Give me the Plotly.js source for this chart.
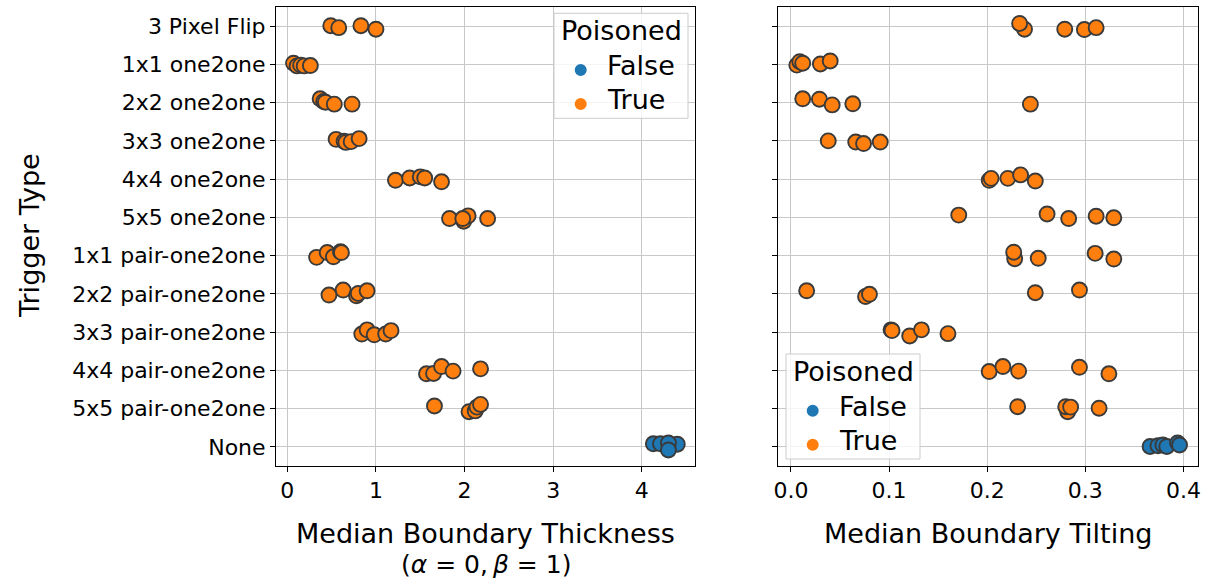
<!DOCTYPE html>
<html>
<head>
<meta charset="utf-8">
<script src="https://cdn.plot.ly/plotly-3.0.1.min.js"></script>
<style>html,body{margin:0;padding:0;background:#fff;}#chart{width:1205px;height:582px;}</style>
</head>
<body>
<div id="chart"></div>
<script>
const categories = ["3 Pixel Flip","1x1 one2one","2x2 one2one","3x3 one2one","4x4 one2one","5x5 one2one",
  "1x1 pair-one2one","2x2 pair-one2one","3x3 pair-one2one","4x4 pair-one2one","5x5 pair-one2one","None"];
const poisoned = [true,true,true,true,true,true,true,true,true,true,true,false];

// Median Boundary Thickness (alpha=0, beta=1), per trigger type
const thicknessValues = [
  [0.49, 0.58, 0.83, 1.00],
  [0.07, 0.11, 0.15, 0.19, 0.26],
  [0.37, 0.41, 0.43, 0.53, 0.73],
  [0.55, 0.64, 0.66, 0.72, 0.81],
  [1.22, 1.38, 1.50, 1.55, 1.74],
  [1.83, 1.99, 2.04, 1.98, 2.26],
  [0.33, 0.45, 0.52, 0.60, 0.61],
  [0.47, 0.63, 0.78, 0.80, 0.90],
  [0.84, 0.90, 0.98, 1.11, 1.17],
  [1.57, 1.65, 1.74, 1.87, 2.18],
  [1.66, 2.05, 2.12, 2.14, 2.18],
  [4.13, 4.21, 4.40, 4.30, 4.30]
];
// strip jitter (category units)
const thicknessJitter = [
  [-0.01, 0.04, -0.01, 0.08],
  [-0.03, 0.04, 0.02, 0.04, 0.03],
  [-0.10, -0.03, -0.01, 0.04, 0.04],
  [-0.04, 0.01, 0.04, 0.02, -0.06],
  [0.03, -0.03, -0.06, -0.03, 0.07],
  [0.03, 0.10, -0.04, 0.03, 0.03],
  [0.045, -0.08, 0.03, -0.10, -0.08],
  [0.03, -0.10, 0.05, -0.01, -0.08],
  [0.05, -0.06, 0.07, 0.05, -0.04],
  [0.09, 0.08, -0.10, 0.02, -0.04],
  [-0.07, 0.08, 0.06, -0.04, -0.11],
  [-0.08, -0.08, -0.07, -0.10, 0.08]
];

// Median Boundary Tilting, per trigger type
const tiltingValues = [
  [0.238, 0.233, 0.279, 0.299, 0.311],
  [0.006, 0.009, 0.012, 0.030, 0.040],
  [0.012, 0.029, 0.042, 0.063, 0.244],
  [0.038, 0.066, 0.074, 0.091],
  [0.202, 0.204, 0.221, 0.234, 0.249],
  [0.171, 0.261, 0.283, 0.311, 0.329],
  [0.228, 0.227, 0.252, 0.310, 0.329],
  [0.016, 0.076, 0.080, 0.249, 0.294],
  [0.102, 0.103, 0.121, 0.133, 0.160],
  [0.202, 0.216, 0.232, 0.294, 0.324],
  [0.231, 0.282, 0.280, 0.285, 0.314],
  [0.366, 0.374, 0.379, 0.383, 0.394, 0.396]
];
const tiltingJitter = [
  [0.08, -0.07, 0.08, 0.09, 0.04],
  [0.02, -0.07, -0.03, -0.01, -0.09],
  [-0.10, -0.09, 0.06, 0.03, 0.04],
  [0.00, 0.03, 0.07, 0.03],
  [0.03, -0.02, -0.02, -0.11, 0.05],
  [-0.06, -0.09, 0.03, -0.03, 0.01],
  [0.08, -0.09, 0.07, -0.06, 0.09],
  [-0.08, 0.07, 0.01, -0.03, -0.10],
  [-0.06, -0.04, 0.10, -0.06, 0.04],
  [0.03, -0.10, 0.02, -0.08, 0.09],
  [-0.05, 0.08, -0.05, -0.04, -0.01],
  [-0.01, -0.03, -0.05, -0.01, -0.10, -0.05]
];

const xTicksLeft = [0, 1, 2, 3, 4];
const xTicksRight = [0, 0.1, 0.2, 0.3, 0.4];
const xTickTextRight = ["0.0", "0.1", "0.2", "0.3", "0.4"];
const hueLevels = [false, true];
const hueNames = ["False", "True"];
const hueColors = ["#1f77b4", "#ff7f0e"];
const legendTitle = "Poisoned";

const FONT = "DejaVu Sans, Verdana, sans-serif";
const W = 1205, H = 582;
const M = {l: 276, r: 7, t: 7, b: 116};
const PW = W - M.l - M.r, PH = H - M.t - M.b;
const px = x => (x - M.l) / PW;          // pixel -> paper x
const py = y => 1 - (y - M.t) / PH;      // pixel -> paper y

function buildTraces(values, jitter, xa, ya) {
  const traces = [];
  hueLevels.forEach((h, hi) => {
    const xs = [], ys = [];
    categories.forEach((c, ci) => {
      if (poisoned[ci] !== h) return;
      values[ci].forEach((v, k) => { xs.push(v); ys.push(ci + jitter[ci][k]); });
    });
    traces.push({
      type: "scatter", mode: "markers", x: xs, y: ys, xaxis: xa, yaxis: ya,
      name: hueNames[hi], showlegend: false, hoverinfo: "x",
      marker: {size: 15, color: hueColors[hi], line: {color: "#3a3a3a", width: 1.9}}
    });
  });
  return traces;
}

const data = [].concat(
  buildTraces(thicknessValues, thicknessJitter, "x", "y"),
  buildTraces(tiltingValues, tiltingJitter, "x2", "y2")
);

// legend boxes (matplotlib-style), positioned in pixels: [left, top]
const legendBoxes = [[554, 13.3], [786, 354]];
const shapes = [], annotations = [];
legendBoxes.forEach(([L, T]) => {
  const bw = 134, bh = 105;
  shapes.push({type: "rect", xref: "paper", yref: "paper", layer: "above",
    x0: px(L), x1: px(L + bw), y0: py(T + bh), y1: py(T),
    fillcolor: "rgba(255,255,255,0.8)", line: {color: "#cccccc", width: 1}});
  annotations.push({text: legendTitle, xref: "paper", yref: "paper", x: px(L + bw / 2), y: py(T + 17.5),
    showarrow: false, xanchor: "center", yanchor: "middle", font: {family: FONT, size: 27, color: "#000"}});
  hueNames.forEach((n, i) => {
    const cy = T + 56.7 + i * 34;
    shapes.push({type: "circle", xref: "paper", yref: "paper", layer: "above",
      x0: px(L + 26.7 - 6), x1: px(L + 26.7 + 6), y0: py(cy + 6), y1: py(cy - 6),
      fillcolor: hueColors[i], line: {width: 0}});
    annotations.push({text: n, xref: "paper", yref: "paper", x: px(L + 51), y: py(cy - 4.5),
      showarrow: false, xanchor: "left", yanchor: "middle", font: {family: FONT, size: 27, color: "#000"}});
  });
});

const catIdx = categories.map((c, i) => i);
const axisCommon = {
  showline: true, mirror: true, linecolor: "#000", linewidth: 1,
  showgrid: true, gridcolor: "#c8c8c8", gridwidth: 1, zeroline: false,
  ticks: "outside", ticklen: 5, tickwidth: 1, tickcolor: "#000",
  tickfont: {family: FONT, size: 22, color: "#000"}, automargin: false
};

annotations.push(
  {text: "Trigger Type", xref: "paper", yref: "paper", x: px(30), y: py(236), textangle: -90,
   showarrow: false, xanchor: "center", yanchor: "middle", font: {family: FONT, size: 27, color: "#000"}},
  {text: "Median Boundary Thickness", xref: "x domain", yref: "paper", x: 0.5, y: py(533),
   showarrow: false, xanchor: "center", yanchor: "middle", font: {family: FONT, size: 27, color: "#000"}},
  {text: "(<i>α</i> = 0,\u2009<i>β</i> = 1)", xref: "x domain", yref: "paper", x: 0.5, y: py(564),
   showarrow: false, xanchor: "center", yanchor: "middle", font: {family: FONT, size: 25, color: "#000"}},
  {text: "Median Boundary Tilting", xref: "x2 domain", yref: "paper", x: 0.5, y: py(533),
   showarrow: false, xanchor: "center", yanchor: "middle", font: {family: FONT, size: 27, color: "#000"}}
);

const layout = {
  width: W, height: H,
  margin: {l: M.l, r: M.r, t: M.t, b: M.b, pad: 0},
  paper_bgcolor: "#fff", plot_bgcolor: "#fff",
  font: {family: FONT, color: "#000"},
  showlegend: false,
  xaxis: Object.assign({}, axisCommon, {domain: [0, px(695)], range: [-0.128, 4.60], tickvals: xTicksLeft, anchor: "y"}),
  yaxis: Object.assign({}, axisCommon, {range: [11.5, -0.5], tickvals: catIdx, ticktext: categories, anchor: "x"}),
  xaxis2: Object.assign({}, axisCommon, {domain: [px(778.3), 1], range: [-0.0129, 0.4148], tickvals: xTicksRight, ticktext: xTickTextRight, anchor: "y2"}),
  yaxis2: Object.assign({}, axisCommon, {range: [11.5, -0.5], tickvals: catIdx, showticklabels: false, anchor: "x2"}),
  shapes: shapes,
  annotations: annotations
};

Plotly.newPlot("chart", data, layout, {displayModeBar: false, staticPlot: true});
</script>
</body>
</html>
